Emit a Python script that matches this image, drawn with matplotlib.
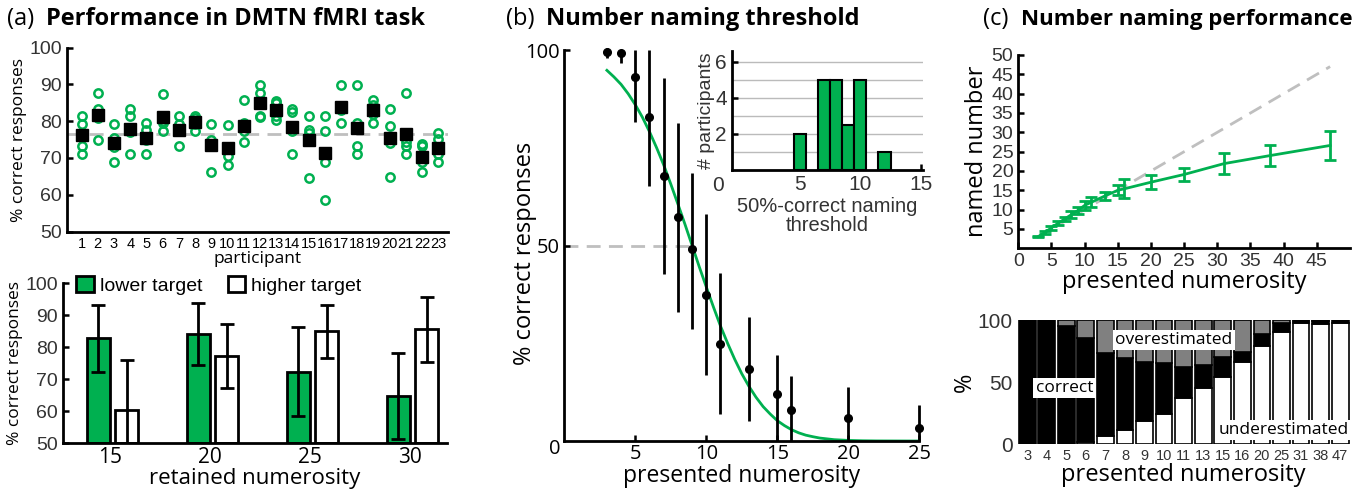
import matplotlib
matplotlib.use("Agg")
import matplotlib.pyplot as plt
from matplotlib.ticker import FixedLocator

GREEN = "#00B050"
GRAY = "#BFBFBF"
LABF = "Open Sans"
TICKF = "Liberation Sans"

# ---------------- data ----------------
# (a) top: per-participant run scores and mean
participants = list(range(1, 24))
run_scores = [
    [81.4, 79.3, 73.1, 71.0],
    [87.7, 83.3, 80.8, 75.0],
    [79.3, 75.4, 72.9, 68.8],
    [83.4, 81.3, 77.1, 71.0],
    [79.4, 77.6, 74.9, 71.0],
    [87.5, 80.1, 79.5, 77.3],
    [81.4, 79.3, 77.3, 73.1],
    [81.4, 80.8, 79.3, 77.3],
    [79.1, 74.8, 73.8, 66.3],
    [79.0, 72.6, 70.6, 68.2],
    [85.6, 79.5, 77.2, 74.3],
    [89.8, 87.7, 81.3, 81.2],
    [85.5, 85.0, 81.3, 80.2],
    [83.4, 82.4, 77.2, 71.0],
    [81.3, 77.6, 76.7, 64.5],
    [81.3, 77.4, 68.9, 58.5],
    [89.8, 83.4, 83.0, 79.4],
    [89.8, 79.4, 73.1, 71.0],
    [85.6, 84.5, 82.0, 79.4],
    [83.4, 78.8, 74.1, 64.9],
    [87.7, 74.4, 73.1, 71.0],
    [73.7, 73.1, 68.9, 66.1],
    [76.7, 75.1, 71.1, 68.9],
]
mean_scores = [76.1, 81.7, 74.0, 77.9, 75.3, 81.1, 77.6, 79.7, 73.5, 72.6, 78.8, 85.0,
               83.0, 78.5, 74.9, 71.4, 83.9, 78.1, 82.9, 75.3, 76.4, 70.3, 72.6]
group_mean = 76.4

# (a) bottom
retained = ["15", "20", "25", "30"]
lower_mean = [82.8, 84.1, 72.4, 64.8]
lower_err = [10.4, 9.6, 14.0, 13.3]
higher_mean = [60.3, 77.4, 85.0, 85.6]
higher_err = [15.7, 10.0, 8.3, 10.2]

# (b) main
num_b = [3, 4, 5, 6, 7, 8, 9, 10, 11, 13, 15, 16, 20, 25]
pc_b = [99.6, 99.3, 93.2, 82.9, 67.7, 57.3, 49.1, 37.4, 24.9, 18.5, 12.0, 7.9, 6.0, 3.2]
pc_lo = [97.9, 96.6, 81.7, 65.2, 42.7, 33.1, 28.7, 17.0, 6.9, 5.1, 0.0, 0.0, 0.0, 0.0]
pc_hi = [100.5, 99.9, 100.0, 100.0, 92.9, 81.3, 68.6, 58.0, 42.9, 31.8, 21.9, 16.6, 13.9, 9.3]
fit_x = [3, 3.5, 4, 4.5, 5, 5.5, 6, 6.5, 7, 7.5, 8, 8.5, 9, 9.5, 10, 10.5, 11, 11.5, 12,
         12.5, 13, 13.5, 14, 14.5, 15, 15.5, 16, 16.5, 17, 17.5, 18, 19, 20, 21, 22, 23, 24, 25]
fit_y = [94.8, 93.1, 91.2, 88.8, 86.0, 82.8, 79.1, 75.0, 70.6, 65.7, 60.6, 55.4, 50.0, 44.6,
         39.4, 34.3, 29.4, 25.0, 20.9, 17.2, 14.0, 11.2, 8.8, 6.9, 5.2, 3.95, 2.9, 2.1, 1.5,
         1.1, 0.75, 0.34, 0.15, 0.06, 0.02, 0.01, 0.0, 0.0]
threshold = 9.0

# (b) inset histogram
thr_bins = [5, 7, 8, 9, 10, 12]
thr_counts = [2, 5, 5, 2.5, 5, 1]

# (c) top
num_c = [3, 4, 5, 6, 7, 8, 9, 10, 11, 13, 15, 16, 20, 25, 31, 38, 47]
named = [3.0, 4.1, 5.3, 6.5, 7.6, 8.7, 9.8, 11.1, 11.9, 13.5, 15.0, 15.4, 17.1, 19.1, 21.9, 24.0, 26.6]
named_err = [0.2, 0.3, 0.5, 0.6, 0.6, 0.9, 0.8, 1.2, 1.3, 1.1, 1.3, 2.5, 1.8, 1.7, 2.7, 2.7, 3.8]

# (c) bottom
cat_c = ["3", "4", "5", "6", "7", "8", "9", "10", "11", "13", "15", "16", "20", "25", "31", "38", "47"]
under_pct = [0, 0, 0, 1.5, 6.5, 11.3, 18.3, 23.9, 36.8, 45.2, 53.8, 66.1, 79.0, 90.3, 97.3, 96.8, 97.8]
correct_pct = [100, 100, 95.2, 83.7, 66.6, 57.8, 47.6, 41.2, 25.0, 18.5, 16.1, 8.4, 9.4, 7.0, 2.2, 2.5, 2.2]
over_pct = [0, 0, 4.8, 14.8, 26.9, 30.9, 34.1, 34.9, 38.2, 36.3, 30.1, 25.5, 11.6, 2.7, 0.5, 0.7, 0]

# ---------------- figure ----------------
W, H = 1363, 491
fig = plt.figure(figsize=(W / 100, H / 100), dpi=100)


def px_axes(l, r, t, b):
    return fig.add_axes([l / W, 1 - b / H, (r - l) / W, (b - t) / H])


def style(ax, spines=("left", "bottom"), lw=2.0):
    for s in ax.spines:
        ax.spines[s].set_visible(s in spines)
        ax.spines[s].set_linewidth(lw)
    ax.tick_params(direction="in", width=1.8, length=4)


# titles
TY = 1 - 19 / H
fig.text(7 / W, TY, "(a)", fontsize=17, family=LABF, va="center")
fig.text(46 / W, TY, "Performance in DMTN fMRI task", fontsize=17, family=LABF,
         weight="bold", va="center")
fig.text(506 / W, TY, "(b)", fontsize=17, family=LABF, va="center")
fig.text(546 / W, TY, "Number naming threshold", fontsize=17, family=LABF,
         weight="bold", va="center")
fig.text(983 / W, TY, "(c)", fontsize=17, family=LABF, va="center")
fig.text(1021 / W, TY, "Number naming performance", fontsize=16, family=LABF,
         weight="bold", va="center")

# ---- (a) top
ax1 = px_axes(67, 448, 47.5, 231.5)
style(ax1)
for p, runs in zip(participants, run_scores):
    ax1.plot([p] * len(runs), runs, "o", mfc="none", mec=GREEN, ms=6, mew=1.8, zorder=3)
ax1.axhline(group_mean, color=GRAY, lw=2, ls=(0, (5, 3)), zorder=1)
ax1.plot(participants, mean_scores, "s", color="black", ms=9, zorder=4)
ax1.set_xlim(0.1, 23.6)
ax1.set_ylim(50, 100)
ax1.set_yticks([50, 60, 70, 80, 90, 100])
ax1.set_xticks(participants)
ax1.set_xticklabels([str(p) for p in participants], fontsize=10.5, family=TICKF)
ax1.tick_params(axis="x", length=0, pad=4)
for lab in ax1.get_yticklabels():
    lab.set_fontsize(14)
    lab.set_family(TICKF)
    lab.set_color("#333333")
ax1.set_xlabel("participant", fontsize=12.5, family=LABF, labelpad=0)
ax1.set_ylabel("% correct responses", fontsize=12.5, family=LABF, labelpad=2)

# ---- (a) bottom
ax2 = px_axes(63, 447, 283.3, 443.3)
style(ax2)
xs = list(range(len(retained)))
xl = [x - 0.12 for x in xs]
xh = [x + 0.165 for x in xs]
ax2.bar(xl, [m - 50 for m in lower_mean], bottom=50, width=0.23, color=GREEN, edgecolor="black",
        lw=2, label="lower target", zorder=2)
ax2.bar(xh, [m - 50 for m in higher_mean], bottom=50, width=0.23, color="white", edgecolor="black",
        lw=2, label="higher target", zorder=2)
ax2.errorbar(xl, lower_mean, yerr=lower_err, fmt="none", ecolor="black", elinewidth=2,
             capsize=5, capthick=2, zorder=3)
ax2.errorbar(xh, higher_mean, yerr=higher_err, fmt="none", ecolor="black", elinewidth=2,
             capsize=5, capthick=2, zorder=3)
ax2.set_xlim(-0.47, 3.37)
ax2.set_ylim(50, 100)
ax2.set_yticks([50, 60, 70, 80, 90, 100])
ax2.set_xticks(xs)
ax2.set_xticklabels(retained, fontsize=15, family=LABF)
ax2.tick_params(axis="x", length=0, pad=3)
for lab in ax2.get_yticklabels():
    lab.set_fontsize(14)
    lab.set_family(TICKF)
    lab.set_color("#333333")
ax2.set_xlabel("retained numerosity", fontsize=16, family=LABF, labelpad=0)
ax2.set_ylabel("% correct responses", fontsize=12.5, family=LABF, labelpad=2)
leg = ax2.legend(loc="upper left", bbox_to_anchor=(0.035, 1.045), ncol=2, frameon=False,
                 prop={"family": TICKF, "size": 14}, handlelength=0.9, handleheight=0.9,
                 handletextpad=0.3, columnspacing=1.3, borderpad=0, borderaxespad=0)

# ---- (b) main
ax3 = px_axes(564.3, 919.3, 50, 441)
style(ax3)
ax3.plot([0, threshold], [50, 50], color=GRAY, lw=2, ls=(0, (5, 3)), zorder=1)
ax3.plot(fit_x, fit_y, color=GREEN, lw=2, zorder=2)
yerr_b = [[p - lo for p, lo in zip(pc_b, pc_lo)], [hi - p for p, hi in zip(pc_b, pc_hi)]]
ax3.errorbar(num_b, pc_b, yerr=yerr_b, fmt="o", color="black", ms=5.5, elinewidth=2, capsize=0,
             zorder=3, clip_on=False)
ax3.set_xlim(0, 25)
ax3.set_ylim(0, 100)
ax3.set_xticks([5, 10, 15, 20, 25])
ax3.set_yticks([50, 100])
ax3.tick_params(labelsize=14.5)
ax3.tick_params(axis="x", pad=2)
for lab in ax3.get_xticklabels() + ax3.get_yticklabels():
    lab.set_family(LABF)
ax3.text(-0.012, -0.02, "0", transform=ax3.transAxes, ha="right", va="center", fontsize=14.5,
         family=LABF)
ax3.set_xlabel("presented numerosity", fontsize=16.5, family=LABF, labelpad=0)
ax3.set_ylabel("% correct responses", fontsize=17, family=LABF)
ax3.yaxis.set_label_coords(-0.078, 0.48)

# ---- (b) inset
ax4 = px_axes(731.7, 923.3, 50.7, 170)
style(ax4, lw=2.0)
ax4.set_axisbelow(True)
ax4.yaxis.grid(True, color="#BBBBBB", lw=1)
ax4.bar(thr_bins, thr_counts, width=1.0, color=GREEN, edgecolor="black", lw=1.5, zorder=2)
ax4.set_xlim(-0.6, 15.2)
ax4.set_ylim(0, 6.6)
ax4.set_xticks([5, 10, 15])
ax4.set_yticks([2, 4, 6])
ax4.yaxis.set_minor_locator(FixedLocator([1, 3, 5]))
ax4.yaxis.grid(True, which="minor", color="#BBBBBB", lw=1)
ax4.tick_params(which="minor", length=0)
ax4.tick_params(labelsize=15)
for lab in ax4.get_xticklabels() + ax4.get_yticklabels():
    lab.set_family(TICKF)
    lab.set_color("#333333")
ax4.text(-0.04, -0.05, "0", transform=ax4.transAxes, ha="right", va="top", fontsize=15,
         family=TICKF, color="#333333")
ax4.set_xlabel("50%-correct naming\nthreshold", fontsize=14.5, family=TICKF, labelpad=2,
               linespacing=1.0, color="#333333")
ax4.set_ylabel("# participants", fontsize=14, family=TICKF, labelpad=0, color="#333333")

# ---- (c) top
ax5 = px_axes(1018.3, 1350, 55, 248.3)
style(ax5)
ax5.plot([num_c[0], num_c[-1]], [num_c[0], num_c[-1]], color=GRAY, lw=2, ls=(0, (5, 3)), zorder=1)
ax5.errorbar(num_c, named, yerr=named_err, color=GREEN, lw=2, elinewidth=2, capsize=4,
             capthick=2, zorder=3)
ax5.set_xlim(0, 50)
ax5.set_ylim(0, 50)
ax5.set_xticks(list(range(0, 50, 5)))
ax5.set_yticks(list(range(5, 55, 5)))
ax5.tick_params(labelsize=14)
for lab in ax5.get_xticklabels() + ax5.get_yticklabels():
    lab.set_family(TICKF)
    lab.set_color("#333333")
ax5.set_xlabel("presented numerosity", fontsize=17, family=LABF, labelpad=0)
ax5.set_ylabel("named number", fontsize=17, family=LABF, labelpad=2)

# ---- (c) bottom
ax6 = px_axes(1017.3, 1350, 320, 444)
for s in ax6.spines:
    ax6.spines[s].set_visible(False)
xc = list(range(len(cat_c)))
bot2 = [u + c for u, c in zip(under_pct, correct_pct)]
ax6.bar(xc, under_pct, width=0.86, color="white", edgecolor="black", lw=1.2)
ax6.bar(xc, correct_pct, bottom=under_pct, width=0.86, color="black", edgecolor="black", lw=1.2)
ax6.bar(xc, over_pct, bottom=bot2, width=0.86, color="#808080", edgecolor="black", lw=1.2)
ax6.set_xlim(-0.5, len(cat_c) - 0.5)
ax6.set_ylim(0, 100)
ax6.set_yticks([0, 50, 100])
ax6.set_xticks(xc)
ax6.set_xticklabels(cat_c, fontsize=10.5, family=TICKF, color="#333333")
ax6.tick_params(length=0)
for lab in ax6.get_yticklabels():
    lab.set_fontsize(15)
    lab.set_family(TICKF)
    lab.set_color("#333333")
box = dict(facecolor="white", edgecolor="none", pad=1.5)
ax6.text(1.9, 45, "correct", fontsize=12.5, family=LABF, ha="center", va="center", bbox=box)
ax6.text(7.5, 84, "overestimated", fontsize=12.5, family=LABF, ha="center", va="center", bbox=box)
ax6.text(13.1, 11, "underestimated", fontsize=12.5, family=LABF, ha="center", va="center", bbox=box)
ax6.set_xlabel("presented numerosity", fontsize=17, family=LABF, labelpad=0)
ax6.set_ylabel("%", fontsize=17, family=LABF, labelpad=0)

fig.savefig("out.png", dpi=100)
